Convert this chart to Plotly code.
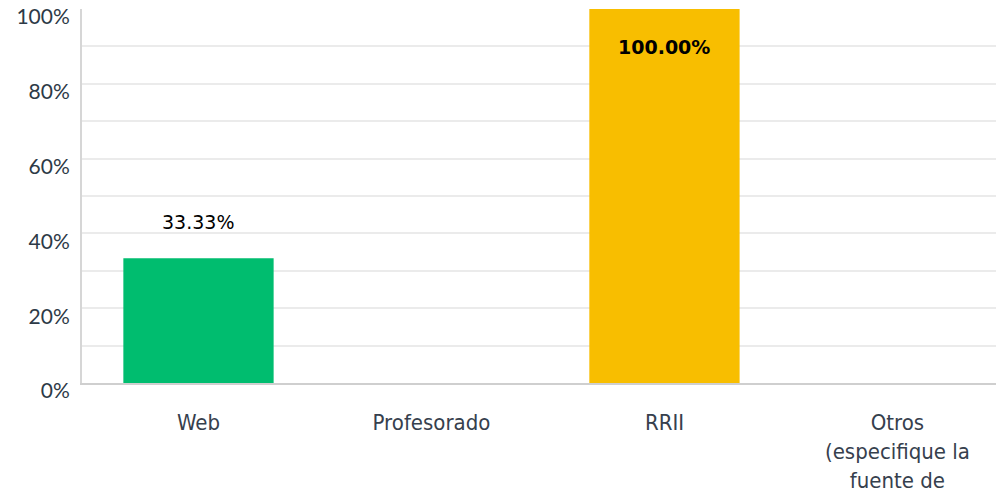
import plotly.graph_objects as go

categories = ["Web", "Profesorado", "RRII", "Otros<br>(especifique la<br>fuente de"]
values = [33.33, 0, 100, 0]
bar_colors = ["#00BD6F", "#00BD6F", "#F8BE00", "#F8BE00"]
label_text = ["33.33%", "", "100.00%", ""]
y_tickvals = [0, 10, 20, 30, 40, 50, 60, 70, 80, 90, 100]
y_ticktext = ["0%", "", "20%", "", "40%", "", "60%", "", "80%", "", "100%"]

fig = go.Figure()
fig.add_trace(go.Bar(
    x=list(range(len(categories))),
    y=values,
    marker=dict(color=bar_colors, line=dict(width=0)),
    width=0.645,
    hoverinfo="skip",
))

# data labels
fig.add_annotation(x=0, y=values[0], text=label_text[0], showarrow=False,
                   yshift=36, font=dict(family="DejaVu Sans", size=19, color="#000000"))
fig.add_annotation(x=2, y=values[2], text="<b>" + label_text[2] + "</b>", showarrow=False,
                   yshift=-38, font=dict(family="DejaVu Sans", size=19, color="#000000"))

fig.update_layout(
    width=996, height=497,
    margin=dict(l=82, r=0, t=9, b=114),
    paper_bgcolor="white", plot_bgcolor="white",
    showlegend=False,
)
fig.update_xaxes(
    range=[-0.5, 3.423],
    tickmode="array",
    tickvals=list(range(len(categories))),
    ticktext=categories,
    showgrid=False,
    showline=True, linecolor="#cfcfcf", linewidth=2,
    ticks="", ticklabelstandoff=19,
    tickfont=dict(family="DejaVu Sans Condensed, DejaVu Sans", size=22, color="#36404d"),
    automargin=False,
)
fig.update_yaxes(
    range=[0, 100.0001],
    tickmode="array",
    tickvals=y_tickvals,
    ticktext=y_ticktext,
    showgrid=True, gridcolor="#ebebeb", gridwidth=2,
    showline=True, linecolor="#d6d6d6", linewidth=2,
    ticks="", ticklabelstandoff=6, ticklabelshift=8,
    ticklabeloverflow="allow",
    tickfont=dict(family="Lato", size=21, color="#2d3a47"),
    zeroline=False,
    automargin=False,
)

# remove the default 8px page margin so the figure fills the window exactly
fig.write_html("out.html", config={"displayModeBar": False},
               post_script="document.body.style.margin='0';")
